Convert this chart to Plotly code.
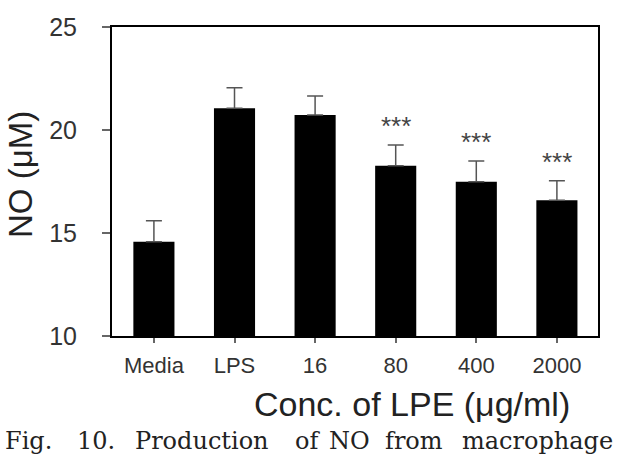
import plotly.graph_objects as go

categories = ["Media", "LPS", "16", "80", "400", "2000"]
values = [14.58, 21.05, 20.73, 18.27, 17.49, 16.59]
errors = [1.02, 1.0, 0.92, 1.0, 1.0, 0.95]
signif = ["", "", "", "***", "***", "***"]
y_ticks = [10, 15, 20, 25]

caption_words = ["Fig.", "10.", "Production", "of", "NO", "from", "macrophage"]
caption_x_px = [3, 75, 133, 293, 327, 383, 460]

W, H = 617, 456
L, R, T, B = 112, 19, 27, 120
pw = W - L - R
ph = H - T - B

def px_to_paper_x(px):
    return (px - L) / pw

def px_to_paper_y(py):
    return (H - B - py) / ph

fig = go.Figure()
fig.add_trace(go.Bar(
    x=list(range(len(categories))),
    y=values,
    width=0.51,
    marker=dict(color="black", line=dict(width=0)),
    error_y=dict(type="data", array=errors, arrayminus=[0] * len(errors),
                 symmetric=False, color="#555555", thickness=1.5, width=8),
    showlegend=False,
))

annotations = []
for i, s in enumerate(signif):
    if s:
        annotations.append(dict(
            x=i, y=values[i] + errors[i], xref="x", yref="y",
            text=s, showarrow=False, yanchor="bottom", yshift=2,
            font=dict(size=26, color="#444444", family="Liberation Sans, Arial"),
        ))

annotations.append(dict(
    x=px_to_paper_x(412), y=px_to_paper_y(404), xref="paper", yref="paper",
    text="Conc. of LPE (μg/ml)", showarrow=False, xanchor="center", yanchor="middle",
    font=dict(size=34, color="#222222", family="Liberation Sans, Arial"),
))
annotations.append(dict(
    x=px_to_paper_x(20), y=px_to_paper_y(175), xref="paper", yref="paper",
    text="NO (μM)", showarrow=False, xanchor="center", yanchor="middle", textangle=-90,
    font=dict(size=33, color="#222222", family="Liberation Sans, Arial"),
))
for w, xp in zip(caption_words, caption_x_px):
    annotations.append(dict(
        x=px_to_paper_x(xp), y=px_to_paper_y(457), xref="paper", yref="paper",
        text=w, showarrow=False, xanchor="left", yanchor="bottom",
        font=dict(size=24, color="#222222", family="DejaVu Serif, Liberation Serif, serif"),
    ))

fig.update_layout(
    width=W, height=H,
    margin=dict(l=L, r=R, t=T, b=B),
    paper_bgcolor="white", plot_bgcolor="white",
    font=dict(family="Liberation Sans, Arial", color="#222222"),
    annotations=annotations,
    xaxis=dict(
        range=[-0.52, 5.51], tickvals=list(range(len(categories))), ticktext=categories,
        showline=True, linecolor="black", linewidth=2, mirror=True,
        ticks="outside", ticklen=5, tickwidth=1.5, tickcolor="#666666",
        tickfont=dict(size=22, color="#333333"), showgrid=False, zeroline=False,
        ticklabelstandoff=4,
    ),
    yaxis=dict(
        range=[10, 25], tickvals=y_ticks,
        showline=True, linecolor="black", linewidth=2, mirror=True,
        ticks="outside", ticklen=8, tickwidth=1.5, tickcolor="#666666",
        tickfont=dict(size=25, color="#333333"), showgrid=False, zeroline=False,
        ticklabelstandoff=20,
    ),
)

fig.write_html("out.html")
